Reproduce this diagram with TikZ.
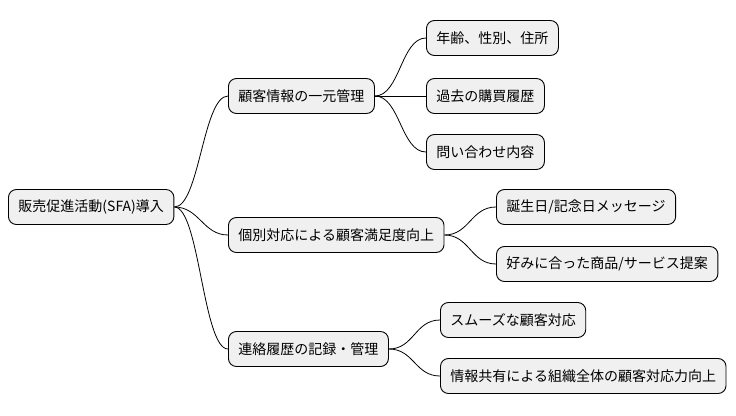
\documentclass[tikz,border=0pt]{standalone}
\usepackage{fontspec}
\setmainfont{Noto Sans CJK JP}
\begin{document}
\begin{tikzpicture}[x=1pt,y=-1pt,
  box/.style={draw=black,line width=0.9pt,fill=black!6,rounded corners=8pt,minimum height=35pt,inner xsep=10pt,anchor=west,font=\fontsize{14}{16}\selectfont},
  con/.style={draw=black,line width=0.8pt}]
\useasboundingbox (0,0) rectangle (736,415);
\node[box] (r) at (8,207) {販売促進活動(SFA)導入};
\node[box] (a) at (228,96) {顧客情報の一元管理};
\node[box] (b) at (228,235) {個別対応による顧客満足度向上};
\node[box] (c) at (228,349) {連絡履歴の記録・管理};
\node[box] (a1) at (426,38) {年齢、性別、住所};
\node[box] (a2) at (426,96) {過去の購買履歴};
\node[box] (a3) at (426,152) {問い合わせ内容};
\node[box] (b1) at (496,207) {誕生日/記念日メッセージ};
\node[box] (b2) at (496,264) {好みに合った商品/サービス提案};
\node[box] (c1) at (440,320) {スムーズな顧客対応};
\node[box] (c2) at (440,376) {情報共有による組織全体の顧客対応力向上};
\foreach \p/\q in {r/a,r/b,r/c,a/a1,a/a2,a/a3,b/b1,b/b2,c/c1,c/c2}
  \draw[con] (\p.east) .. controls +(25,0) and +(-25,0) .. (\q.west);
\end{tikzpicture}
\end{document}
